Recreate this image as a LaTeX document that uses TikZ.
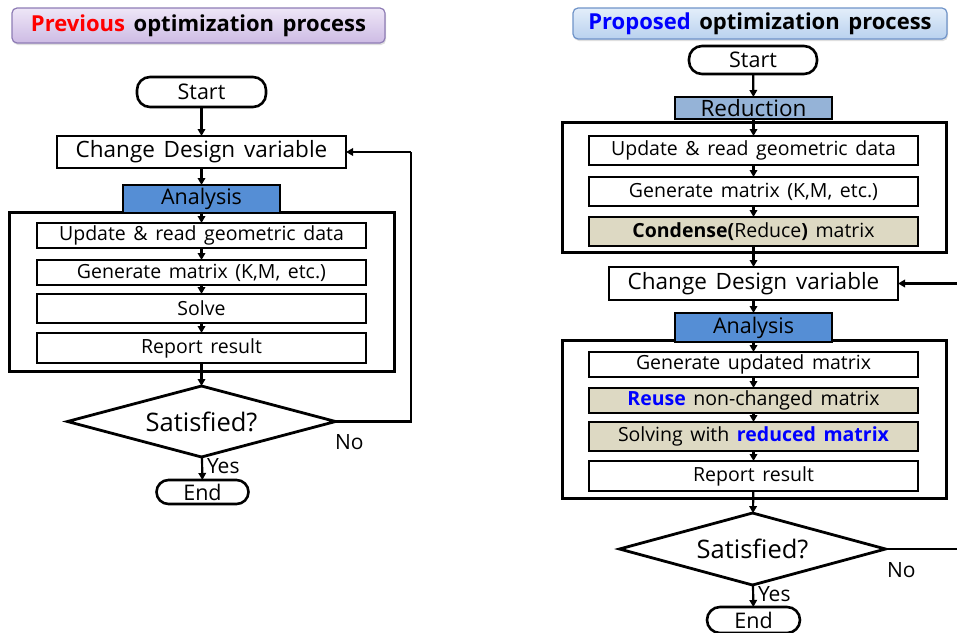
\documentclass[tikz,border=0pt]{standalone}
\usepackage{fontspec}
\setmainfont{Open Sans}[WordSpace=1.5]
\usetikzlibrary{shapes.geometric,arrows.meta,shadows}
\definecolor{anblue}{HTML}{558ED5}
\definecolor{redblue}{HTML}{95B3D7}
\definecolor{tan}{HTML}{DDD9C3}
\definecolor{lavtop}{HTML}{EEE6F7}
\definecolor{lavbot}{HTML}{CDBBE4}
\definecolor{lavline}{HTML}{8E7CB5}
\definecolor{bltop}{HTML}{E3EEFA}
\definecolor{blbot}{HTML}{B9D1EE}
\definecolor{blline}{HTML}{6F93C8}
\definecolor{txblue}{HTML}{0000FF}
\begin{document}
\begin{tikzpicture}[x=1pt,y=-1pt,
  every node/.style={inner sep=0pt, outer sep=0pt},
  title/.style={draw, line width=1.2pt, rounded corners=5pt, font=\bfseries\fontsize{22}{25}\selectfont,
    drop shadow={opacity=0.25, shadow xshift=1pt, shadow yshift=-2pt}},
  pill/.style={draw, line width=2.6pt, fill=white, rounded corners=13pt, font=\fontsize{21.5}{24}\selectfont},
  cdv/.style={draw, line width=2.8pt, fill=white, minimum width=289pt, font=\fontsize{22.5}{25}\selectfont},
  hdr/.style={draw, line width=2.6pt, minimum width=157pt, font=\fontsize{21.5}{24}\selectfont},
  outer/.style={draw, line width=3pt, minimum width=385pt},
  stepbox/.style={draw, line width=1.7pt, fill=white, minimum width=329pt, font=\fontsize{19.5}{22}\selectfont},
  dec/.style={draw, line width=2.8pt, fill=white, shape=diamond, shape aspect=3.7, font=\fontsize{25.5}{30}\selectfont},
  lbl/.style={font=\fontsize{21}{24}\selectfont},
  arr/.style={-{Triangle[length=7pt,width=7.5pt]}, line width=2.2pt},
  fb/.style={line width=2.6pt}
]
\useasboundingbox (0,0) rectangle (957,632);

% ---------------- Left: previous process ----------------
\node[title, top color=lavtop, bottom color=lavbot, draw=lavline, minimum width=373pt, minimum height=35pt]
  (tL) at (198.5,25.5) {\textcolor{red}{Previous} optimization process};
\node[pill, minimum width=129pt, minimum height=30pt] (stL) at (201.5,92) {Start};
\node[cdv, minimum height=32pt] (cdL) at (201.5,152) {Change Design variable};
\node[outer, minimum height=159pt] (oL) at (201.5,291.5) {};
\node[hdr, fill=anblue, minimum height=28pt] (anL) at (201.5,199) {Analysis};
\node[stepbox, minimum height=25pt] (upL) at (201.5,235.5) {Update \& read geometric data};
\node[stepbox, minimum height=25pt] (geL) at (201.5,272.5) {Generate matrix (K,M, etc.)};
\node[stepbox, minimum height=29pt] (soL) at (201.5,308.5) {Solve};
\node[stepbox, minimum height=30pt] (reL) at (201.5,348) {Report result};
\node[dec, minimum width=268pt, minimum height=71pt] (diL) at (201.5,421.5) {Satisfied?};
\node[pill, rounded corners=12pt, minimum width=92pt, minimum height=24pt] (enL) at (202.5,492) {End};
\node[lbl, anchor=west] (yesL) at (207,466) {Yes};
\node[lbl, anchor=west] (noL) at (335,442) {No};
\coordinate (fbL) at (411,152);

\draw[arr] (stL) -- (cdL);
\draw[arr] (cdL) -- (anL);
\draw[arr] (anL) -- (upL);
\draw[arr] (upL) -- (geL);
\draw[arr] (geL) -- (soL);
\draw[arr] (soL) -- (reL);
\draw[arr] (reL) -- (diL);
\draw[arr] (diL) -- (enL);
\draw[fb] (diL.east) -| (fbL);
\draw[arr] (fbL) -- (cdL.east);

% ---------------- Right: proposed process ----------------
\node[title, top color=bltop, bottom color=blbot, draw=blline, minimum width=374pt, minimum height=31pt]
  (tR) at (760,23.5) {\textcolor{txblue}{Proposed} optimization process};
\node[pill, minimum width=128pt, minimum height=28pt] (stR) at (753,60) {Start};
\node[outer, minimum width=384pt, minimum height=130pt] (oR1) at (754,187) {};
\node[hdr, fill=redblue, minimum height=22pt, font=\fontsize{22.5}{25}\selectfont] (rdR) at (753.5,108) {Reduction};
\node[stepbox, minimum height=29pt] (upR) at (753.5,150.5) {Update \& read geometric data};
\node[stepbox, minimum height=29pt] (geR) at (753.5,191.5) {Generate matrix (K,M, etc.)};
\node[stepbox, fill=tan, minimum height=29pt] (coR) at (753.5,231.5) {\textbf{Condense(}Reduce\textbf{)} matrix};
\node[cdv, minimum height=33pt] (cdR) at (753.5,283.5) {Change Design variable};
\node[outer, minimum width=384pt, minimum height=158pt] (oR2) at (754,419) {};
\node[hdr, fill=anblue, minimum height=29pt] (anR) at (753.5,327.5) {Analysis};
\node[stepbox, minimum height=25pt] (guR) at (753.5,364.5) {Generate updated matrix};
\node[stepbox, fill=tan, minimum height=25pt] (ruR) at (753.5,400.5) {\textcolor{txblue}{\textbf{Reuse}} non-changed matrix};
\node[stepbox, fill=tan, minimum height=29pt] (svR) at (753.5,436.5) {Solving with \textcolor{txblue}{\textbf{reduced matrix}}};
\node[stepbox, minimum height=30pt] (reR) at (753.5,476) {Report result};
\node[dec, minimum width=266pt, minimum height=72pt] (diR) at (752.5,549) {Satisfied?};
\node[pill, rounded corners=13pt, minimum width=93pt, minimum height=26pt] (enR) at (753.5,620) {End};
\node[lbl, anchor=west] (yesR) at (758,594) {Yes};
\node[lbl, anchor=west] (noR) at (887,570) {No};
\coordinate (fbR1) at (957,549);
\coordinate (fbR2) at (957,283.5);

\draw[arr] (stR) -- (rdR);
\draw[arr] (rdR) -- (upR);
\draw[arr] (upR) -- (geR);
\draw[arr] (geR) -- (coR);
\draw[arr] (coR) -- (cdR);
\draw[arr] (cdR) -- (anR);
\draw[arr] (anR) -- (guR);
\draw[arr] (guR) -- (ruR);
\draw[arr] (ruR) -- (svR);
\draw[arr] (svR) -- (reR);
\draw[arr] (reR) -- (diR);
\draw[arr] (diR) -- (enR);
\draw[fb] (diR.east) -- (fbR1);
\draw[arr] (fbR2) -- (cdR.east);
\end{tikzpicture}
\end{document}
